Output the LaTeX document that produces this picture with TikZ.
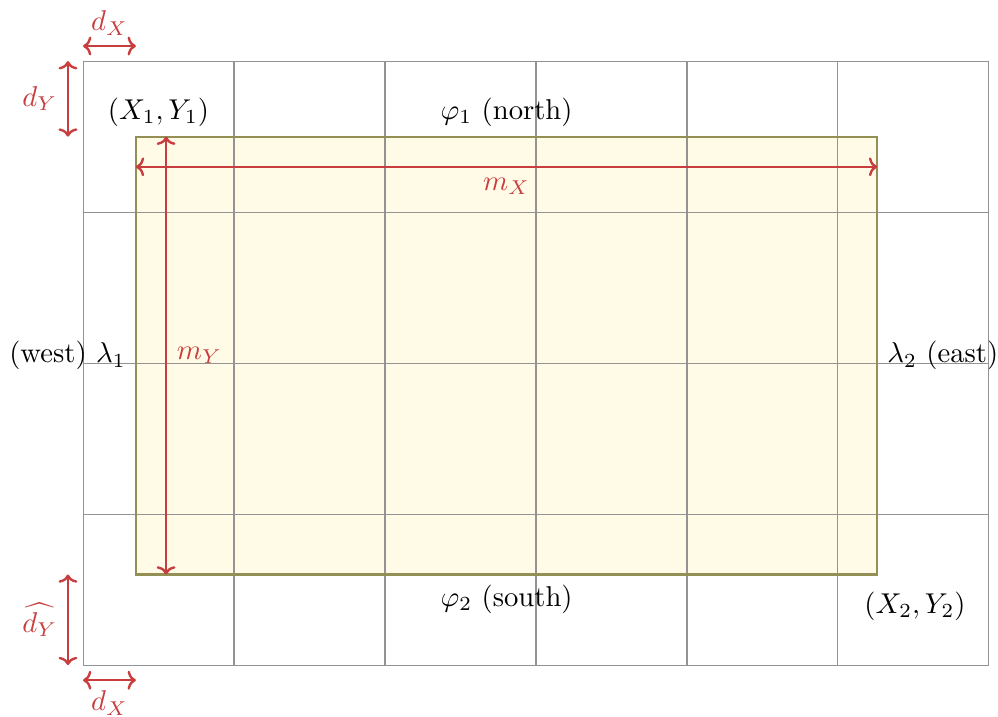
\documentclass[tikz,border=0pt]{standalone}
\usetikzlibrary{positioning, arrows.meta}
\definecolor{dimred}{RGB}{200,62,62}
\definecolor{boxfill}{RGB}{255,251,231}
\definecolor{boxline}{RGB}{148,143,84}
\begin{document}
\begin{tikzpicture}[every node/.style={scale=1.08},
    dim/.style={dimred, line width=0.9pt, {To[length=1.1mm,width=2.5mm]}-{To[length=1.1mm,width=2.5mm]}},
    dimtext/.style={text=dimred}]
    \useasboundingbox (-1.1,-0.675) rectangle (12.12,8.81);
    % box corners
    \coordinate (sw) at (0.7,1.2);
    \coordinate (ne) at (10.52,7);
    \fill[boxfill] (sw) rectangle (ne);
    % grid
    \draw[gray!85, thin] (0,0) grid[step=2] (12,8);
    \draw[boxline, thick] (sw) rectangle (ne);
    % labels of the box
    \node[above] (nw) at (1.0,7) {$(X_1,Y_1)$};
    \node[above] (north) at (5.61,7) {$\varphi_1$ (north)};
    \node[below] (south) at (5.61,1.2) {$\varphi_2$ (south)};
    \node (se) at (11.02,0.78) {$(X_2,Y_2)$};
    \node[left] (west) at (0.7,4.1) {(west) $\lambda_1$};
    \node[right] (east) at (10.52,4.1) {$\lambda_2$ (east)};
    % dimensions
    \coordinate (dxa) at (0,8.2);
    \coordinate (dxb) at (0.7,8.2);
    \draw[dim] (dxa) -- (dxb) node[midway, above, dimtext] (dxtop) {$d_X$};
    \coordinate (dya) at (-0.2,8);
    \coordinate (dyb) at (-0.2,7);
    \draw[dim] (dya) -- (dyb) node[midway, left, dimtext] (dy) {$d_Y$};
    \coordinate (mxa) at (0.7,6.6);
    \coordinate (mxb) at (10.52,6.6);
    \draw[dim] (mxa) -- (mxb) node[midway, below, dimtext] (mx) {$m_X$};
    \coordinate (mya) at (1.1,7);
    \coordinate (myb) at (1.1,1.2);
    \draw[dim] (mya) -- (myb) node[midway, right, dimtext] (my) {$m_Y$};
    \coordinate (hya) at (-0.2,1.2);
    \coordinate (hyb) at (-0.2,0);
    \draw[dim] (hya) -- (hyb) node[midway, left, dimtext] (hdy) {$\widehat{d_Y}$};
    \coordinate (bxa) at (0,-0.2);
    \coordinate (bxb) at (0.7,-0.2);
    \draw[dim] (bxa) -- (bxb) node[midway, below, dimtext] (dxbot) {$d_X$};
\end{tikzpicture}
\end{document}
